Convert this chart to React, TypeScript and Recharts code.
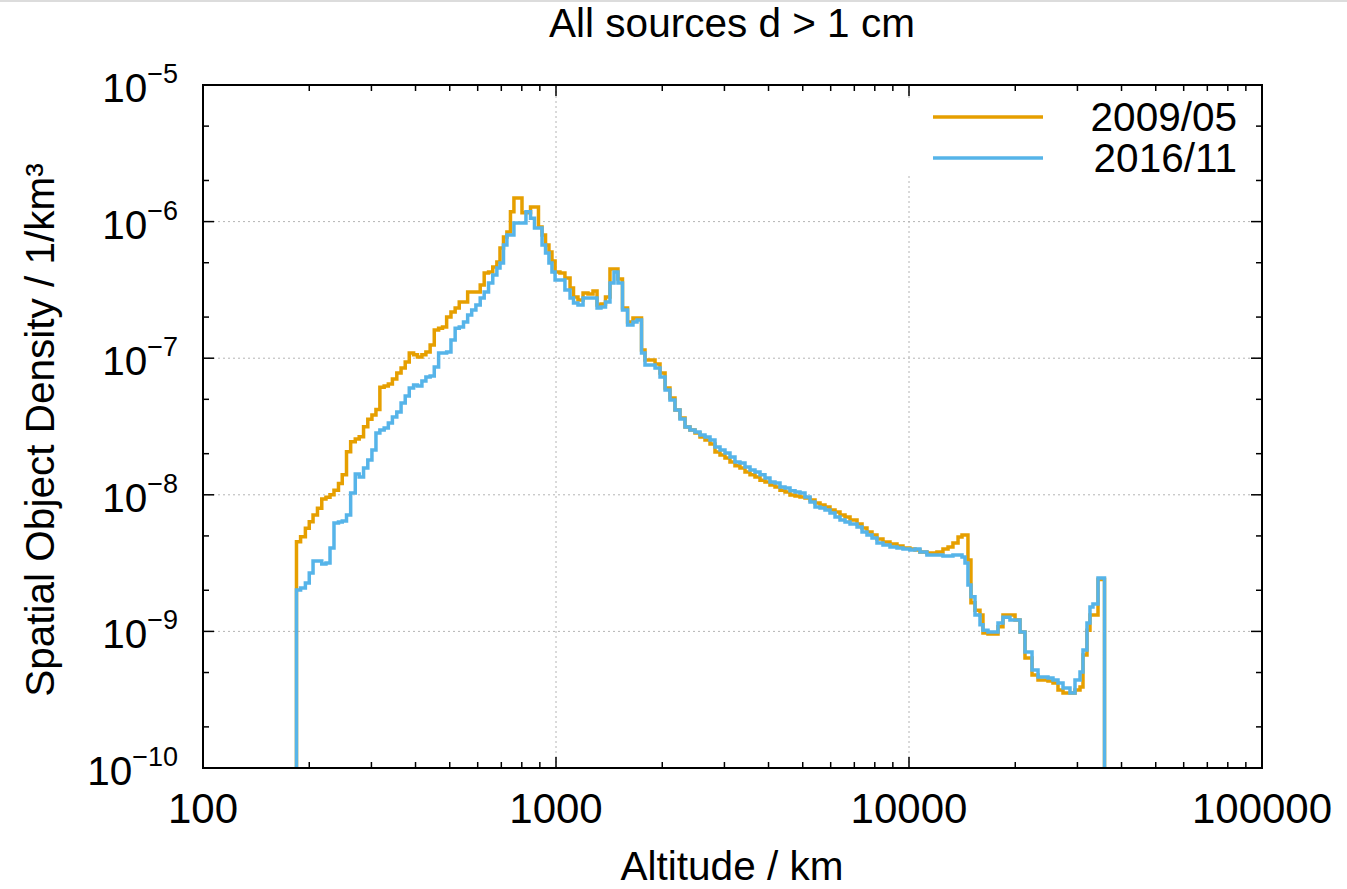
import React from "react";
import { Line, LineChart, ReferenceLine, XAxis, YAxis } from "recharts";

// bin edges (km) of the step histogram; first and last edge close the curve to zero
const altitudes = [
  180, 184, 189, 195, 200, 205, 211, 217, 223, 229, 235, 242, 248, 255, 262, 270, 277, 285, 293, 301,
  309, 317, 326, 335, 344, 354, 364, 374, 384, 395, 405, 417, 428, 440, 452, 465, 477, 490, 504, 518,
  532, 547, 562, 577, 593, 610, 626, 644, 662, 680, 694, 710, 726, 743, 760, 781, 801, 822, 847, 869,
  892, 913, 934, 955, 974, 994, 1026, 1060, 1096, 1121, 1154, 1193, 1232, 1273, 1307, 1341, 1381, 1422, 1460, 1498,
  1543, 1595, 1652, 1696, 1747, 1787, 1847, 1908, 1971, 2037, 2103, 2173, 2245, 2320, 2396, 2476, 2558, 2643, 2731, 2821,
  2915, 3011, 3111, 3214, 3320, 3431, 3545, 3662, 3784, 3909, 4038, 4173, 4311, 4454, 4602, 4755, 4912, 5075, 5243, 5417,
  5597, 5781, 5973, 6172, 6376, 6588, 6807, 7125, 7361, 7603, 7856, 8115, 8439, 8834, 9247, 9616, 10060, 10400, 10740, 11240,
  12000, 12480, 12900, 13320, 13770, 14130, 14410, 14690, 14980, 15380, 15890, 16200, 16740, 17300, 17870, 18460, 19320, 19970, 20630, 21310,
  22310, 23200, 24760, 25580, 26430, 27310, 28580, 29530, 30510, 31110, 31930, 32560, 33200, 34310, 35800,
];

// spatial object density, 1/km^3 (1e-12 = empty bin, below the axis)
const density2009 = [
  1e-12, 4.53e-9, 4.94e-9, 5.69e-9, 6.36e-9, 7.11e-9, 7.96e-9, 9.32e-9, 9.59e-9, 1.0e-8, 1.08e-8, 1.21e-8, 1.4e-8, 2.07e-8, 2.45e-8, 2.56e-8, 2.66e-8, 3.15e-8, 3.57e-8, 3.84e-8,
  4.22e-8, 6.12e-8, 6.26e-8, 6.47e-8, 7.04e-8, 7.79e-8, 8.48e-8, 9.38e-8, 1.09e-7, 1.06e-7, 1.02e-7, 1.06e-7, 1.11e-7, 1.25e-7, 1.61e-7, 1.66e-7, 1.69e-7, 2.0e-7, 2.18e-7, 2.33e-7,
  2.58e-7, 2.58e-7, 3.05e-7, 3.05e-7, 3.05e-7, 3.44e-7, 4.2e-7, 4.28e-7, 4.65e-7, 5.06e-7, 6.41e-7, 7.72e-7, 8.39e-7, 1.18e-6, 1.49e-6, 1.49e-6, 1.16e-6, 1.16e-6, 1.28e-6, 1.28e-6,
  9.13e-7, 7.98e-7, 6.74e-7, 5.99e-7, 5.15e-7, 4.28e-7, 4.2e-7, 3.86e-7, 3.27e-7, 2.8e-7, 2.67e-7, 3.0e-7, 2.95e-7, 3.1e-7, 2.45e-7, 2.49e-7, 2.8e-7, 4.5e-7, 4.5e-7, 3.8e-7,
  2.33e-7, 1.84e-7, 1.97e-7, 1.97e-7, 1.15e-7, 9.7e-8, 9.7e-8, 9.07e-8, 7.79e-8, 6.05e-8, 5.11e-8, 4.17e-8, 3.65e-8, 3.14e-8, 2.98e-8, 2.83e-8, 2.65e-8, 2.52e-8, 2.35e-8, 2.06e-8,
  1.96e-8, 1.86e-8, 1.74e-8, 1.63e-8, 1.57e-8, 1.47e-8, 1.4e-8, 1.35e-8, 1.28e-8, 1.24e-8, 1.18e-8, 1.14e-8, 1.08e-8, 1.05e-8, 9.97e-9, 9.8e-9, 9.63e-9, 9.47e-9, 9.16e-9, 8.71e-9,
  8.42e-9, 8.14e-9, 7.74e-9, 7.48e-9, 7.11e-9, 6.88e-9, 6.54e-9, 6.11e-9, 5.72e-9, 5.34e-9, 5.08e-9, 4.75e-9, 4.51e-9, 4.36e-9, 4.22e-9, 4.08e-9, 4.01e-9, 3.94e-9, 3.81e-9, 3.75e-9,
  3.81e-9, 4.01e-9, 4.15e-9, 4.44e-9, 4.91e-9, 5.08e-9, 5.08e-9, 3.33e-9, 1.62e-9, 1.43e-9, 1.32e-9, 9.73e-10, 9.57e-10, 9.57e-10, 1.08e-9, 1.32e-9, 1.32e-9, 1.21e-9, 9.9e-10, 6.39e-10,
  4.8e-10, 4.41e-10, 4.33e-10, 4.19e-10, 3.72e-10, 3.54e-10, 3.54e-10, 3.72e-10, 3.92e-10, 6.71e-10, 1.02e-9, 1.32e-9, 1.32e-9, 2.4e-9, 1e-12,
];

const density2016 = [
  1e-12, 2.01e-9, 2.08e-9, 2.26e-9, 2.68e-9, 3.28e-9, 3.28e-9, 3.11e-9, 3.17e-9, 4.08e-9, 6.22e-9, 6.32e-9, 6.43e-9, 7.11e-9, 1.03e-8, 1.42e-8, 1.35e-8, 1.57e-8, 1.8e-8, 2.13e-8,
  2.83e-8, 2.98e-8, 3.08e-8, 3.35e-8, 3.71e-8, 4.04e-8, 4.7e-8, 5.29e-8, 6.05e-8, 6.36e-8, 6.26e-8, 6.81e-8, 7.29e-8, 7.41e-8, 8.62e-8, 1.09e-7, 1.09e-7, 1.11e-7, 1.36e-7, 1.66e-7,
  1.69e-7, 1.84e-7, 2.07e-7, 2.25e-7, 2.45e-7, 2.76e-7, 3.05e-7, 3.55e-7, 4.06e-7, 4.57e-7, 4.98e-7, 6.74e-7, 7.98e-7, 7.98e-7, 9.77e-7, 9.77e-7, 9.77e-7, 1.18e-6, 1.06e-6, 8.98e-7,
  8.98e-7, 6.74e-7, 5.89e-7, 4.98e-7, 4.28e-7, 3.73e-7, 3.73e-7, 3.16e-7, 2.76e-7, 2.54e-7, 2.45e-7, 2.76e-7, 2.76e-7, 2.76e-7, 2.33e-7, 2.37e-7, 2.58e-7, 3.55e-7, 4.28e-7, 3.55e-7,
  2.25e-7, 1.75e-7, 1.84e-7, 1.9e-7, 1.09e-7, 8.92e-8, 8.92e-8, 8.48e-8, 7.29e-8, 5.85e-8, 4.94e-8, 4.17e-8, 3.59e-8, 3.14e-8, 2.98e-8, 2.88e-8, 2.74e-8, 2.65e-8, 2.52e-8, 2.24e-8,
  2.13e-8, 2.02e-8, 1.89e-8, 1.74e-8, 1.71e-8, 1.6e-8, 1.52e-8, 1.47e-8, 1.4e-8, 1.33e-8, 1.24e-8, 1.22e-8, 1.14e-8, 1.12e-8, 1.07e-8, 1.05e-8, 1.03e-8, 9.63e-9, 8.86e-9, 8.14e-9,
  8.0e-9, 7.74e-9, 7.36e-9, 6.88e-9, 6.54e-9, 6.32e-9, 6.11e-9, 5.81e-9, 5.34e-9, 5.08e-9, 4.83e-9, 4.44e-9, 4.29e-9, 4.15e-9, 4.08e-9, 4.01e-9, 3.94e-9, 4.01e-9, 3.81e-9, 3.62e-9,
  3.62e-9, 3.56e-9, 3.56e-9, 3.62e-9, 3.62e-9, 3.51e-9, 3.17e-9, 2.19e-9, 1.79e-9, 1.32e-9, 1.12e-9, 1.02e-9, 9.9e-10, 9.9e-10, 1.15e-9, 1.27e-9, 1.21e-9, 1.21e-9, 9.9e-10, 7.07e-10,
  5.22e-10, 4.63e-10, 4.56e-10, 4.41e-10, 4.19e-10, 3.85e-10, 3.54e-10, 4.41e-10, 5.04e-10, 7.31e-10, 1.15e-9, 1.51e-9, 1.59e-9, 2.46e-9, 1e-12,
];

const xTicks = [
  100, 200, 300, 400, 500, 600, 700, 800, 900,
  1000, 2000, 3000, 4000, 5000, 6000, 7000, 8000, 9000,
  10000, 20000, 30000, 40000, 50000, 60000, 70000, 80000, 90000, 100000,
];
const xLabels = [100, 1000, 10000, 100000];
const yTicks = [
  1e-10, 2e-10, 5e-10, 1e-9, 2e-9, 5e-9, 1e-8, 2e-8, 5e-8, 1e-7, 2e-7, 5e-7, 1e-6, 2e-6, 5e-6, 1e-5,
];
const yLabels = [1e-10, 1e-9, 1e-8, 1e-7, 1e-6, 1e-5];
const xGrid = [1000, 10000];
const yGrid = [1e-9, 1e-8, 1e-7, 1e-6];

const series = [
  { key: "d2009", name: "2009/05", color: "#E69F00" },
  { key: "d2016", name: "2016/11", color: "#56B4E9" },
];

const rows = altitudes.map((alt, i) => ({
  alt,
  d2009: density2009[i],
  d2016: density2016[i],
}));

const FONT = "'Liberation Sans', Arial, Helvetica, sans-serif";
const FS = 40.5;
const MAJOR = 11;
const MINOR = 6;

// plot frame
const W = 1347;
const H = 889;
const M = { top: 85, right: 85, bottom: 121, left: 203 };
const PW = W - M.left - M.right;
const PH = H - M.top - M.bottom;

// bottom ticks with their mirrored twins on the top edge
const XTick = ({ x, y, payload }: any) => {
  const major = xLabels.includes(payload.value);
  const len = major ? MAJOR : MINOR;
  const top = y - PH;
  return (
    <g>
      <line x1={x} x2={x} y1={y} y2={y - len} stroke="#000" strokeWidth={1.5} />
      <line x1={x} x2={x} y1={top} y2={top + len} stroke="#000" strokeWidth={1.5} />
      {major && (
        <text x={x} y={y + 55} textAnchor="middle" fontSize={42} fontFamily={FONT} fill="#000">
          {payload.value}
        </text>
      )}
    </g>
  );
};

// left ticks with their mirrored twins on the right edge
const YTick = ({ x, y, payload }: any) => {
  const v = payload.value;
  const major = yLabels.includes(v);
  const len = major ? MAJOR : MINOR;
  const exp = Math.round(Math.log10(v));
  const right = x + PW;
  return (
    <g>
      <line x1={x} x2={x + len} y1={y} y2={y} stroke="#000" strokeWidth={1.5} />
      <line x1={right} x2={right - len} y1={y} y2={y} stroke="#000" strokeWidth={1.5} />
      {major && (
        <text x={x - 25} y={y + 17} textAnchor="end" fontSize={FS} fontFamily={FONT} fill="#000">
          <tspan>10</tspan>
          <tspan dy={-19} fontSize={27}>{`\u2212${-exp}`}</tspan>
        </text>
      )}
    </g>
  );
};

export default function App() {
  return (
    <div style={{ position: "absolute", left: 0, top: 0, width: W, height: H, background: "#fff" }}>
      <div style={{ position: "absolute", left: 0, top: 0, width: W, height: 2, background: "#dcdcdc" }} />
      <LineChart
        width={W}
        height={H}
        data={rows}
        margin={{ top: M.top, right: M.right, bottom: 0, left: 0 }}
      >
        <XAxis
          dataKey="alt"
          type="number"
          scale="log"
          domain={[100, 100000]}
          allowDataOverflow
          ticks={xTicks}
          interval={0}
          height={M.bottom}
          tickSize={0}
          tickMargin={0}
          tickLine={false}
          axisLine={false}
          tick={<XTick />}
        />
        <YAxis
          type="number"
          scale="log"
          domain={[1e-10, 1e-5]}
          allowDataOverflow
          ticks={yTicks}
          interval={0}
          width={M.left}
          tickSize={0}
          tickMargin={0}
          tickLine={false}
          axisLine={false}
          tick={<YTick />}
        />
        {xGrid.map((v) => (
          <ReferenceLine key={`gx${v}`} x={v} stroke="#b4b4b4" strokeWidth={1} strokeDasharray="2 3" />
        ))}
        {yGrid.map((v) => (
          <ReferenceLine key={`gy${v}`} y={v} stroke="#b4b4b4" strokeWidth={1} strokeDasharray="2 3" />
        ))}
        {series.map((s) => (
          <Line
            key={s.key}
            dataKey={s.key}
            name={s.name}
            type="stepAfter"
            stroke={s.color}
            strokeWidth={3.5}
            strokeLinejoin="miter"
            dot={false}
            activeDot={false}
            isAnimationActive={false}
          />
        ))}
      </LineChart>
      <svg
        width={W}
        height={H}
        style={{ position: "absolute", left: 0, top: 0, pointerEvents: "none" }}
        fontFamily={FONT}
      >
        <rect x={905} y={98} width={345} height={78} fill="#fff" />
        <rect x={M.left} y={M.top} width={PW} height={PH} fill="none" stroke="#000" strokeWidth={2} />
        <text x={732} y={37} textAnchor="middle" fontSize={FS} fill="#000">
          All sources d &gt; 1 cm
        </text>
        <text x={732} y={880} textAnchor="middle" fontSize={FS} fill="#000">
          Altitude / km
        </text>
        <text
          transform="translate(54,430) rotate(-90)"
          textAnchor="middle"
          fontSize={FS}
          fill="#000"
        >
          Spatial Object Density / 1/km³
        </text>
        {series.map((s, i) => (
          <g key={s.key}>
            <line x1={933} x2={1043} y1={117 + i * 41} y2={117 + i * 41} stroke={s.color} strokeWidth={3.5} />
            <text x={1237} y={131 + i * 41} textAnchor="end" fontSize={FS} fill="#000">
              {s.name}
            </text>
          </g>
        ))}
      </svg>
    </div>
  );
}
